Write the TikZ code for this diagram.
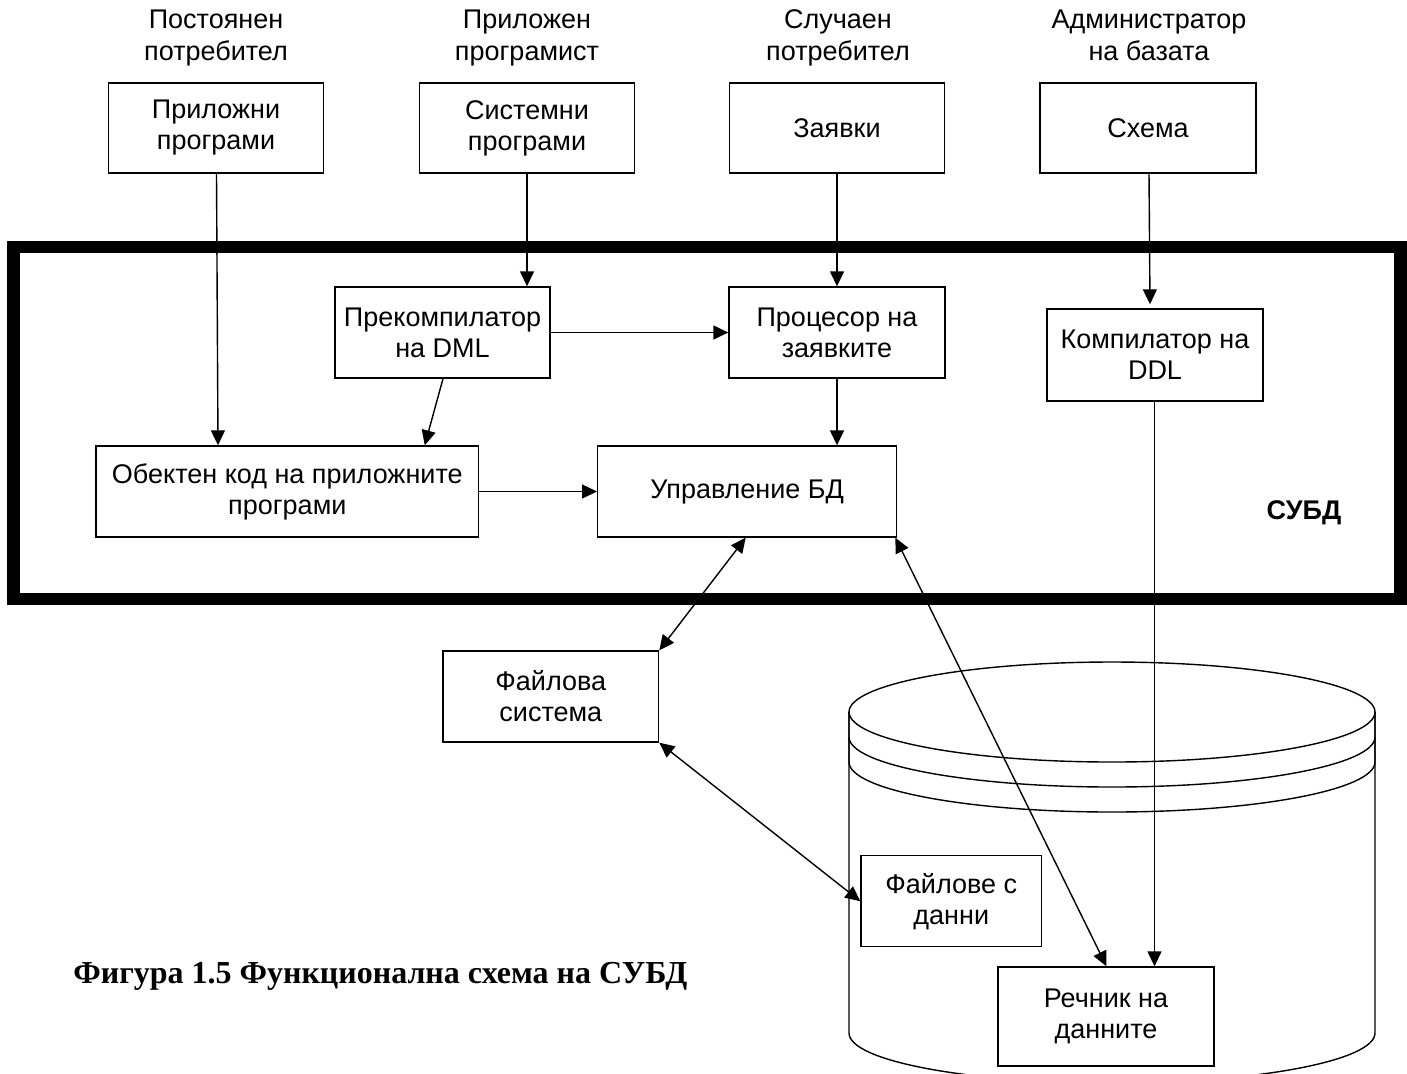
\documentclass[tikz,border=0pt]{standalone}
\usepackage{fontspec}
\setmainfont{Liberation Sans}
\newfontfamily\capfont{Liberation Serif}
\usetikzlibrary{arrows.meta,calc}
\begin{document}
\begin{tikzpicture}[x=0.5pt,y=-0.5pt,
  txt/.style={font=\fontsize{13.5}{15.5}\selectfont, align=center, inner sep=0pt},
  lbl/.style={font=\fontsize{13.5}{16}\selectfont, align=center, inner sep=0pt},
  box/.style={txt, draw, line width=0.7pt, fill=white},
  arr/.style={line width=0.7pt, -{Triangle[length=7.5pt,width=7pt]}},
  darr/.style={line width=0.7pt, {Triangle[length=7.5pt,width=7pt]}-{Triangle[length=7.5pt,width=7pt]}},
  thin/.style={line width=0.7pt},
  frame/.style={line width=6.25pt}]
\useasboundingbox (0,0) rectangle (1407,1073);
\clip (0,0) rectangle (1407,1073);
\fill[white] (0,0) rectangle (1407,1073);

% top labels
\node[lbl] (l1) at (216,38) {\strut Постоянен\\\strut потребител};
\node[lbl] (l2) at (527,38) {\strut Приложен\\\strut програмист};
\node[lbl] (l3) at (838,38) {\strut Случаен\\\strut потребител};
\node[lbl] (l4) at (1149,38) {\strut Администратор\\\strut на базата};

% top boxes
\node[box, minimum width=107.5pt, minimum height=45pt] (app) at (216,128) {Приложни\\програми};
\node[box, minimum width=107.5pt, minimum height=45pt] (sys) at (527,128) {Системни\\програми};
\node[box, minimum width=107.5pt, minimum height=45pt] (req) at (837,128) {Заявки};
\node[box, minimum width=108pt, minimum height=45pt] (sch) at (1148,128) {Схема};

% DBMS frame
\draw[frame] (13.5,247) rectangle (1400.5,599);
\node[font=\fontsize{13.5}{15.5}\selectfont\bfseries, inner sep=0pt] (subd) at (1304,513) {СУБД};

% inner boxes
\node[box, minimum width=107.5pt, minimum height=45.5pt] (prec) at (442.5,332.5) {Прекомпилатор\\на DML};
\node[box, minimum width=108pt, minimum height=45.5pt] (proc) at (837,332.5) {Процесор на\\заявките};
\node[box, minimum width=108pt, minimum height=46pt] (ddl) at (1155,355) {Компилатор на\\DDL};
\node[box, minimum width=191.3pt, minimum height=45.5pt] (obj) at (287.3,491.5) {Обектен код на приложните\\програми};
\node[box, minimum width=149.5pt, minimum height=45.5pt] (mgr) at (747.2,491.5) {Управление БД};

% file system
\node[box, minimum width=107.8pt, minimum height=45.5pt] (fs) at (550.8,696.5) {Файлова\\система};

% cylinder
\draw[thin, fill=white] (849,712) -- (849,1033) arc[start angle=180, end angle=360, x radius=131.5pt, y radius=25pt] -- (1375,712);
\draw[thin, fill=white] (1112,712) ellipse [x radius=131.5pt, y radius=25pt];
\draw[thin] (849,712) -- (849,737) arc[start angle=180, end angle=360, x radius=131.5pt, y radius=25pt] -- (1375,712);
\draw[thin] (849,737) -- (849,762) arc[start angle=180, end angle=360, x radius=131.5pt, y radius=25pt] -- (1375,737);

\node[box, minimum width=90.3pt, minimum height=45.5pt] (dataf) at (951.3,901.2) {Файлове с\\данни};
\node[box, minimum width=108pt, minimum height=49.5pt] (dict) at (1106,1016.5) {Речник на\\данните};

% caption
\node[anchor=west, inner sep=0pt, font=\capfont\bfseries\fontsize{16}{19}\selectfont] (cap) at (73,976) {Фигура 1.5 Функционална схема на СУБД};

% connectors
\coordinate (ddlout) at ($(ddl.south)+(-0.5,0)$);
\draw[arr] ($(app.south)+(0.5,0)$) -- ($(obj.north west)+(122.7,0)$);
\draw[arr] (sys.south) -- (sys.south |- prec.north);
\draw[arr] (req.south) -- (req.south |- proc.north);
\draw[arr] ($(sch.south)+(1,0)$) -- ($(ddl.north)+(-5,-4)$);
\draw[arr] (prec.east) -- (proc.west);
\draw[arr] ($(prec.south)+(0.5,0)$) -- ($(obj.north east)+(-54.6,0)$);
\draw[arr] (proc.south) -- (proc.south |- mgr.north);
\draw[arr] (obj.east) -- (obj.east -| mgr.west);
\draw[arr] (ddlout) -- (ddlout |- dict.north);
\draw[darr] ($(mgr.south east)+(-2,0)$) -- ($(dict.north)+(0.5,0)$);
\draw[darr] ($(mgr.south)+(-1.5,0)$) -- (fs.north east);
\draw[darr] (fs.south east) -- (dataf.west);
\end{tikzpicture}
\end{document}
